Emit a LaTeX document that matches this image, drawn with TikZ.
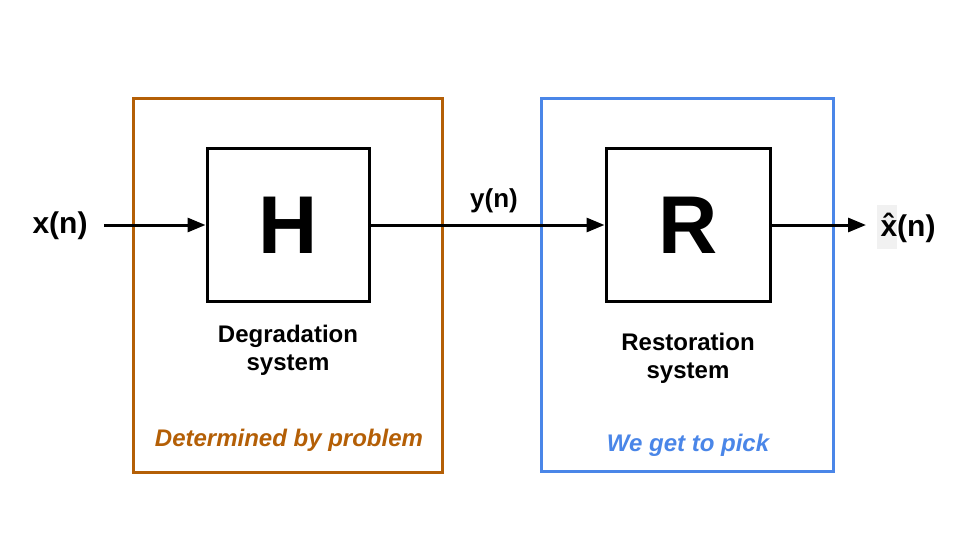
\documentclass[tikz,border=0pt]{standalone}
\usepackage{fontspec}
\setmainfont{Liberation Sans}
\usetikzlibrary{arrows.meta}
\definecolor{orng}{HTML}{B45F06}
\definecolor{blu}{HTML}{4A86E8}
\definecolor{hl}{HTML}{F1F1F1}
\tikzset{
  frame/.style={draw, line width=3pt, rectangle, inner sep=0pt},
  sysbox/.style={draw=black, line width=3pt, rectangle, inner sep=0pt, minimum width=162pt, minimum height=153pt, font=\fontsize{82}{82}\selectfont\bfseries},
  sig/.style={font=\fontsize{30}{34}\selectfont\bfseries, inner sep=0pt},
  lbl/.style={font=\fontsize{24}{28}\selectfont\bfseries, align=center, inner sep=0pt},
  note/.style={font=\fontsize{24}{28}\selectfont\bfseries\itshape, inner sep=0pt},
  conn/.style={line width=3pt, -{Triangle[length=18pt,width=14pt]}}
}
\begin{document}
\begin{tikzpicture}[x=1pt,y=-1pt]
\useasboundingbox (0,0) rectangle (960,540);
\fill[white] (0,0) rectangle (960,540);
% outer frames
\node[frame, draw=orng, minimum width=309pt, minimum height=373pt] (deg) at (287.5,285.5) {};
\node[frame, draw=blu, minimum width=292pt, minimum height=372pt] (res) at (687,285) {};
% systems
\node[sysbox] (H) at (288,225) {H};
\node[sysbox, minimum width=164pt] (R) at (688,225) {R};
% labels
\node[lbl] (degl) at (288,350) {Degradation\\system};
\node[lbl] (resl) at (688,358) {Restoration\\system};
\node[note, text=orng] (degn) at (289,440) {Determined by problem};
\node[note, text=blu] (resn) at (688,445) {We get to pick};
% signals
\node[sig] (xn) at (60,226) {x(n)};
\node[sig, font=\fontsize{26}{30}\selectfont\bfseries] (yn) at (494,201) {y(n)};
\fill[hl] (877,205) rectangle (897,249);
\node[sig] (xh) at (908,228) {\^{x}(n)};
\coordinate (xin) at (104,225);
\coordinate (xout) at (866,225);
\draw[conn] (xin) -- (H.west);
\draw[conn] (H.east) -- (R.west);
\draw[conn] (R.east) -- (xout);
\end{tikzpicture}
\end{document}
